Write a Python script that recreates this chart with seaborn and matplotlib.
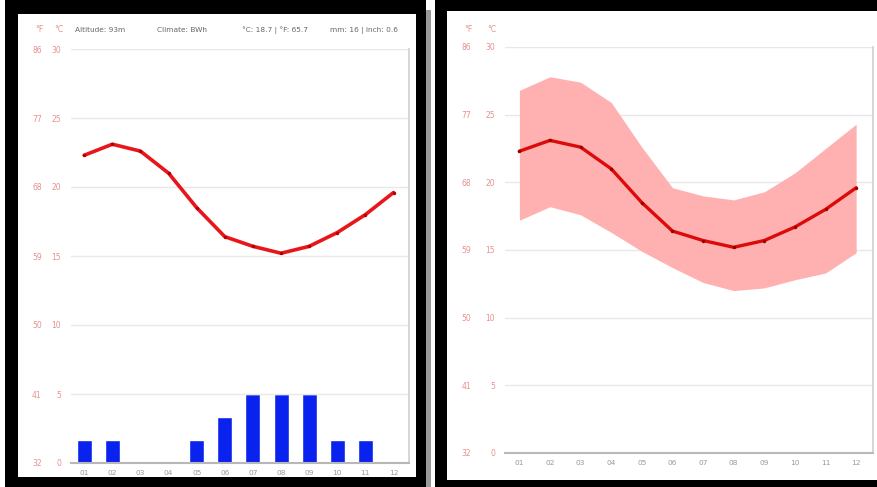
import numpy as np
import seaborn as sns
import pandas as pd
import matplotlib.pyplot as plt
from matplotlib.patches import Rectangle

W, H = 878, 487

MONTHS = ['01', '02', '03', '04', '05', '06', '07', '08', '09', '10', '11', '12']
TEMP_MEAN = [22.3, 23.1, 22.6, 21.0, 18.5, 16.4, 15.7, 15.2, 15.7, 16.7, 18.0, 19.6]
TEMP_MAX = [26.8, 27.8, 27.4, 25.9, 22.6, 19.6, 19.0, 18.7, 19.3, 20.7, 22.5, 24.3]
TEMP_MIN = [17.2, 18.2, 17.6, 16.3, 14.9, 13.7, 12.6, 12.0, 12.2, 12.8, 13.3, 14.8]
PRECIP_MM = [1, 1, 0, 0, 1, 2, 3, 3, 3, 1, 1, 0]
C_TICKS = [0, 5, 10, 15, 20, 25, 30]
F_TICKS = [32, 41, 50, 59, 68, 77, 86]
HEADER = ['Altitude: 93m', 'Climate: BWh', '°C: 18.7 | °F: 65.7', 'mm: 16 | inch: 0.6']

RED = '#e8161a'
LABEL_RED = '#e89090'
GRID = '#e8e8e8'


def px_axes(fig, x0, y0, x1, y1):
    # pixel box (top-left origin) -> axes
    return fig.add_axes([x0 / W, 1 - y1 / H, (x1 - x0) / W, (y1 - y0) / H])


def px_rect(fig, x0, y0, x1, y1, color):
    fig.add_artist(Rectangle((x0 / W, 1 - y1 / H), (x1 - x0) / W, (y1 - y0) / H,
                             transform=fig.transFigure, color=color, lw=0, zorder=-1))


def c_to_f(c):
    return c * 9 / 5 + 32


def f_to_c(f):
    return (f - 32) * 5 / 9


def style_temp_axis(ax, f_loc):
    ax.set_ylim(0, 30)
    ax.set_xlim(-0.47, 11.55)
    ax.set_yticks(C_TICKS)
    ax.set_yticklabels([str(c) for c in C_TICKS])
    ax.tick_params(axis='y', length=0, pad=7, labelsize=5.5, labelcolor=LABEL_RED)
    ax.tick_params(axis='x', length=3, width=0.8, color='#cccccc', pad=2,
                   labelsize=5.3, labelcolor='#999999')
    ax.grid(axis='y', color=GRID, lw=1)
    ax.grid(axis='x', visible=False)
    ax.set_axisbelow(True)
    for s in ['left', 'top']:
        ax.spines[s].set_visible(False)
    ax.spines['right'].set_color('#d2d2d2')
    ax.spines['bottom'].set_color('#b8b8b8')
    ax.spines['bottom'].set_linewidth(1.5)
    ax.set_xlabel('')
    ax.set_ylabel('')

    sec = ax.secondary_yaxis(f_loc, functions=(c_to_f, f_to_c))
    sec.set_yticks(F_TICKS)
    sec.set_yticklabels([str(f) for f in F_TICKS])
    sec.tick_params(length=0, pad=7, labelsize=5.5, labelcolor=LABEL_RED)
    sec.spines['left'].set_visible(False)


def main():
    sns.set_theme(style='white')
    plt.rcParams['font.family'] = ['DejaVu Sans']

    df = pd.DataFrame({
        'month': MONTHS,
        'mean': TEMP_MEAN,
        'tmax': TEMP_MAX,
        'tmin': TEMP_MIN,
        'precip': PRECIP_MM,
    })

    fig = plt.figure(figsize=(W / 100, H / 100), dpi=100)
    fig.patch.set_facecolor('white')

    # frames around the two screenshots
    px_rect(fig, 5, 0, 426, 14, 'black')
    px_rect(fig, 5, 477, 426, 487, 'black')
    px_rect(fig, 5, 0, 18, 487, 'black')
    px_rect(fig, 416, 0, 426, 487, 'black')
    px_rect(fig, 426, 10, 431, 487, '#9a9a9a')
    px_rect(fig, 435, 0, 878, 11, 'black')
    px_rect(fig, 435, 0, 447, 487, 'black')
    px_rect(fig, 435, 480, 878, 487, 'black')

    # Left: climate graph with precipitation bars
    ax = px_axes(fig, 71, 49, 409, 463)
    ax2 = ax.twinx()
    sns.barplot(data=df, x='month', y='precip', ax=ax2, color='#0a22ee',
                saturation=1, width=0.53)
    ax2.set_ylim(0, 18)
    ax2.set_yticks([])
    ax2.set_ylabel('')
    for s in ax2.spines.values():
        s.set_visible(False)
    sns.lineplot(data=df, x='month', y='mean', ax=ax, color=RED, lw=2.6,
                 marker='o', markersize=2.5, markeredgewidth=0,
                 markerfacecolor='#b00000', zorder=5)
    style_temp_axis(ax, -0.058)
    ax.set_zorder(ax2.get_zorder() + 1)
    ax.patch.set_visible(False)

    fig.text(39 / W, 1 - 30 / H, '°F', color=LABEL_RED, fontsize=5.5, ha='center', va='center')
    fig.text(59 / W, 1 - 30 / H, '°C', color=LABEL_RED, fontsize=5.5, ha='center', va='center')
    for xp, txt in zip([75, 157, 242, 330], HEADER):
        fig.text(xp / W, 1 - 30 / H, txt, color='#666666', fontsize=5.3,
                 ha='left', va='center')

    # Right: temperature range band
    axr = px_axes(fig, 505, 47, 873, 453)
    axr.fill_between(df['month'], df['tmin'], df['tmax'], color='#ffb1b1', lw=0, zorder=2)
    sns.lineplot(data=df, x='month', y='mean', ax=axr, color='#dd0a0a', lw=2.4,
                 marker='o', markersize=2.5, markeredgewidth=0,
                 markerfacecolor='#9a0000', zorder=5)
    style_temp_axis(axr, -0.066)

    fig.text(468 / W, 1 - 30 / H, '°F', color=LABEL_RED, fontsize=5.5, ha='center', va='center')
    fig.text(492 / W, 1 - 30 / H, '°C', color=LABEL_RED, fontsize=5.5, ha='center', va='center')

    fig.savefig('out.png', dpi=100)


if __name__ == '__main__':
    main()
